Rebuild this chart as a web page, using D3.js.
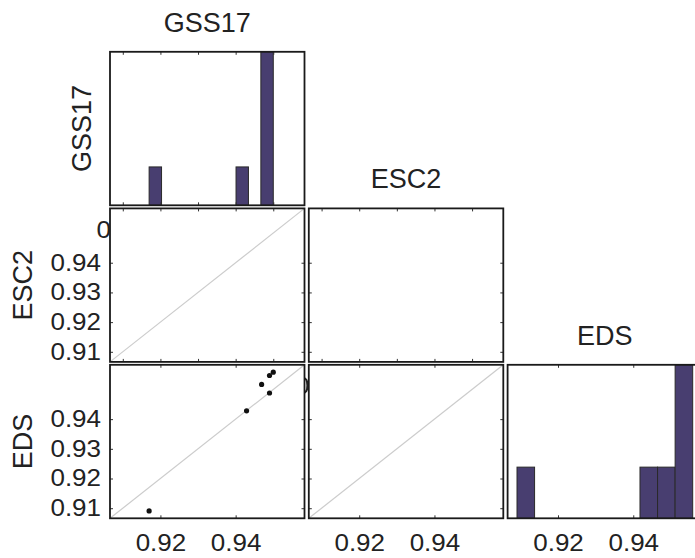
<!DOCTYPE html>
<html>
<head>
<meta charset="utf-8">
<script src="https://cdn.jsdelivr.net/npm/d3@7"></script>
<style>
  body { margin: 0; background: #fff; }
  text { font-family: "Liberation Sans", Arial, sans-serif; fill: #222; }
</style>
</head>
<body>
<script>
// variable names, in matrix order
const names = ["GSS17", "ESC2", "EDS"];
// values (ESC2 has none)
const gss17 = [0.9170, 0.9429, 0.9469, 0.9490, 0.9490, 0.9500];
const esc2 = [];
const eds   = [0.9091, 0.9428, 0.9517, 0.9488, 0.9547, 0.9558];
const series = [gss17, esc2, eds];

const axisDomain = [0.9066, 0.9583];
const fullTicks = [0.91, 0.92, 0.93, 0.94, 0.95];
const edgeTicks = [0.92, 0.94];
const yTicks = [0.91, 0.92, 0.93, 0.94];
const nBins = 10;

const w = 695, h = 558;
const colX = [110, 308.8, 507.6], rowY = [51.8, 208.4, 364.8];
const pw = 194.5, ph = 153.5;
const barColor = "#483e70";
const fmt = d3.format(".2f");

const svg = d3.select("body").append("svg")
  .attr("width", w).attr("height", h);

// grey-only filter so the half-hidden label has no coloured fringe
svg.append("defs").append("filter").attr("id", "grey")
  .append("feColorMatrix").attr("type", "saturate").attr("values", 0);

// stray "0" that peeks out behind the middle panel of the bottom row
{
  const y = d3.scaleLinear().domain(axisDomain).range([rowY[2] + ph, rowY[2]]);
  svg.append("g").attr("filter", "url(#grey)")
    .append("text").attr("y", y(0.95)).attr("dy", "0.2em")
    .attr("text-anchor", "end").attr("font-size", 23)
    .attr("transform", `translate(${colX[1] + 1},0) scale(1.13,1)`)
    .text("0");
}

function ticks(g, x, y, xt, yt) {
  const tick = (axis) => (sel) => { sel.call(axis); sel.select(".domain").remove();
    sel.selectAll("line").attr("stroke", "#333"); };
  if (xt) {
    g.append("g").attr("transform", `translate(0,${y.range()[0]})`)
      .call(tick(d3.axisBottom(x).tickValues(xt).tickSize(-3).tickFormat("")));
    g.append("g").attr("transform", `translate(0,${y.range()[1]})`)
      .call(tick(d3.axisTop(x).tickValues(xt).tickSize(-3).tickFormat("")));
  }
  if (yt) {
    g.append("g").attr("transform", `translate(${x.range()[0]},0)`)
      .call(tick(d3.axisLeft(y).tickValues(yt).tickSize(-3).tickFormat("")));
    g.append("g").attr("transform", `translate(${x.range()[1]},0)`)
      .call(tick(d3.axisRight(y).tickValues(yt).tickSize(-3).tickFormat("")));
  }
}

for (let r = 0; r < 3; r++) {
  for (let c = 0; c <= r; c++) {
    const x0 = colX[c], y0 = rowY[r];
    const x = d3.scaleLinear().domain(axisDomain).range([x0, x0 + pw]);
    const g = svg.append("g");
    g.append("rect").attr("x", x0).attr("y", y0).attr("width", pw).attr("height", ph)
      .attr("fill", "#fff");
    const xt = r === 2 ? edgeTicks : fullTicks;

    if (r === c) {
      // histogram on the diagonal
      const vals = series[r];
      if (vals.length) {
        const [mn, mx] = d3.extent(vals);
        const bins = d3.bin().domain([mn, mx])
          .thresholds(d3.range(1, nBins).map(i => mn + i * (mx - mn) / nBins))(vals);
        const yc = d3.scaleLinear().domain([0, d3.max(bins, b => b.length)])
          .range([y0 + ph, y0]);
        g.selectAll("rect.bar").data(bins.filter(b => b.length)).enter()
          .append("rect").attr("class", "bar")
          .attr("x", b => x(b.x0)).attr("width", b => x(b.x1) - x(b.x0))
          .attr("y", b => yc(b.length)).attr("height", b => yc(0) - yc(b.length))
          .attr("fill", barColor).attr("stroke", "#2a2a2a").attr("stroke-width", 1);
        ticks(g, x, yc, xt, null);
      } else {
        const y = d3.scaleLinear().domain(axisDomain).range([y0 + ph, y0]);
        ticks(g, x, y, xt, yTicks);
      }
      svg.append("text").attr("x", x0 + pw / 2).attr("y", y0 - 20)
        .attr("text-anchor", "middle").attr("font-size", 27).text(names[r]);
    } else {
      const y = d3.scaleLinear().domain(axisDomain).range([y0 + ph, y0]);
      g.append("line")
        .attr("x1", x(axisDomain[0])).attr("y1", y(axisDomain[0]))
        .attr("x2", x(axisDomain[1])).attr("y2", y(axisDomain[1]))
        .attr("stroke", "#cccccc").attr("stroke-width", 1.2);
      ticks(g, x, y, xt, yTicks);
      const xs = series[c], ys = series[r];
      const pts = d3.range(Math.min(xs.length, ys.length)).map(i => [xs[i], ys[i]]);
      g.selectAll("circle").data(pts).enter().append("circle")
        .attr("cx", d => x(d[0])).attr("cy", d => y(d[1])).attr("r", 2.6)
        .attr("fill", "#111");

      if (c === 0) {
        const ya = g.append("g").attr("transform", `translate(${x0},0)`)
          .call(d3.axisLeft(y).tickValues(yTicks).tickSize(0).tickPadding(0).tickFormat(fmt));
        ya.select(".domain").remove();
        ya.selectAll("text").attr("x", 0).attr("font-size", 23)
          .attr("transform", "translate(-9,0) scale(1.13,1)");
      }
    }
    g.append("rect").attr("x", x0).attr("y", y0).attr("width", pw).attr("height", ph)
      .attr("fill", "none").attr("stroke", "#1a1a1a").attr("stroke-width", 1.8);

    if (r === 2) {
      const xa = svg.append("g").attr("transform", `translate(0,${y0 + ph})`)
        .call(d3.axisBottom(x).tickValues(edgeTicks).tickSize(0).tickPadding(16).tickFormat(fmt));
      xa.select(".domain").remove();
      xa.selectAll("text").attr("font-size", 23).attr("transform", "scale(1.13,1)");
    }
  }
}

// lone "0" left of the ESC2 row
{
  const y = d3.scaleLinear().domain(axisDomain).range([rowY[1] + ph, rowY[1]]);
  svg.append("text").attr("y", y(0.95)).attr("dy", "0.2em")
    .attr("text-anchor", "end").attr("font-size", 23)
    .attr("transform", `translate(${colX[0] + 1},0) scale(1.13,1)`)
    .text("0");
}

// row labels
names.forEach((n, r) => {
  const cx = r === 0 ? 82 : 23;
  svg.append("text").attr("font-size", 27).attr("text-anchor", "middle")
    .attr("dominant-baseline", "central")
    .attr("transform", `translate(${cx},${rowY[r] + ph / 2}) rotate(-90)`)
    .text(n);
});
</script>
</body>
</html>
